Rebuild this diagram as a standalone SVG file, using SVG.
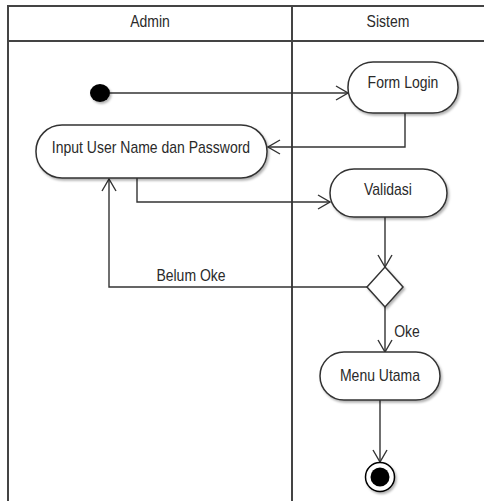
<svg xmlns="http://www.w3.org/2000/svg" width="484" height="501" viewBox="0 0 484 501">
<style>
text{font-family:"Liberation Sans",Arial,sans-serif;font-size:14px;fill:#2a2a2a;text-anchor:middle}
.frame{stroke:#444;stroke-width:2;fill:none}
.node{fill:#fff;stroke:#333;stroke-width:1.5;filter:url(#sh)}
.conn{fill:none;stroke:#333;stroke-width:1.4}
</style>
<defs>
<filter id="sh" x="-20%" y="-20%" width="150%" height="160%">
<feDropShadow dx="1.5" dy="2" stdDeviation="1.2" flood-color="#000" flood-opacity="0.3"/>
</filter>
<marker id="arr" markerWidth="14" markerHeight="16" refX="13" refY="8" orient="auto" markerUnits="userSpaceOnUse">
<path d="M1,1 L13,8 L1,15" fill="none" stroke="#333" stroke-width="1.4"/>
</marker>
</defs>
<rect width="484" height="501" fill="#fff"/>
<g id="swimlanes">
<line class="frame" x1="8" y1="6" x2="484" y2="6"/>
<line class="frame" x1="8" y1="41" x2="484" y2="41"/>
<line class="frame" x1="8" y1="5" x2="8" y2="501"/>
<line class="frame" x1="292" y1="6" x2="292" y2="501"/>
<text transform="translate(150,27) scale(1,1.15)">Admin</text>
<text transform="translate(388,27) scale(1,1.15)">Sistem</text>
</g>
<g id="connectors">
<line class="conn" x1="110" y1="93" x2="348" y2="93" marker-end="url(#arr)"/>
<polyline class="conn" points="405,113 405,147 268,147" marker-end="url(#arr)"/>
<polyline class="conn" points="137,178 137,202 330,202" marker-end="url(#arr)"/>
<line class="conn" x1="385" y1="217" x2="385" y2="267" marker-end="url(#arr)"/>
<polyline class="conn" points="367,287 109,287 109,179" marker-end="url(#arr)"/>
<text transform="translate(191,281) scale(1,1.15)">Belum Oke</text>
<line class="conn" x1="385" y1="307" x2="385" y2="352" marker-end="url(#arr)"/>
<text transform="translate(407,337) scale(1,1.15)">Oke</text>
<line class="conn" x1="380" y1="400" x2="380" y2="462" marker-end="url(#arr)"/>
</g>
<g id="start"><ellipse cx="100" cy="93" rx="10" ry="9" fill="#000" filter="url(#sh)"/></g>
<g id="form-login"><rect class="node" x="348" y="62" width="110" height="51" rx="25" ry="25"/><text transform="translate(403,88) scale(1,1.15)">Form Login</text></g>
<g id="input"><rect class="node" x="36" y="125" width="231" height="53" rx="26" ry="26"/><text transform="translate(151,153) scale(1,1.15)">Input User Name dan Password</text></g>
<g id="validasi"><rect class="node" x="330" y="169" width="117" height="48" rx="24" ry="24"/><text transform="translate(388,195) scale(1,1.15)">Validasi</text></g>
<g id="decision"><polygon class="node" points="385,267 403,287 385,307 367,287"/></g>
<g id="menu-utama"><rect class="node" x="320" y="352" width="120" height="48" rx="24" ry="24"/><text transform="translate(380,381) scale(1,1.15)">Menu Utama</text></g>
<g id="end"><circle cx="380" cy="477" r="14.5" fill="#fff" stroke="#000" stroke-width="1.5" filter="url(#sh)"/><circle cx="380" cy="477" r="9.5" fill="#000"/></g>
</svg>
